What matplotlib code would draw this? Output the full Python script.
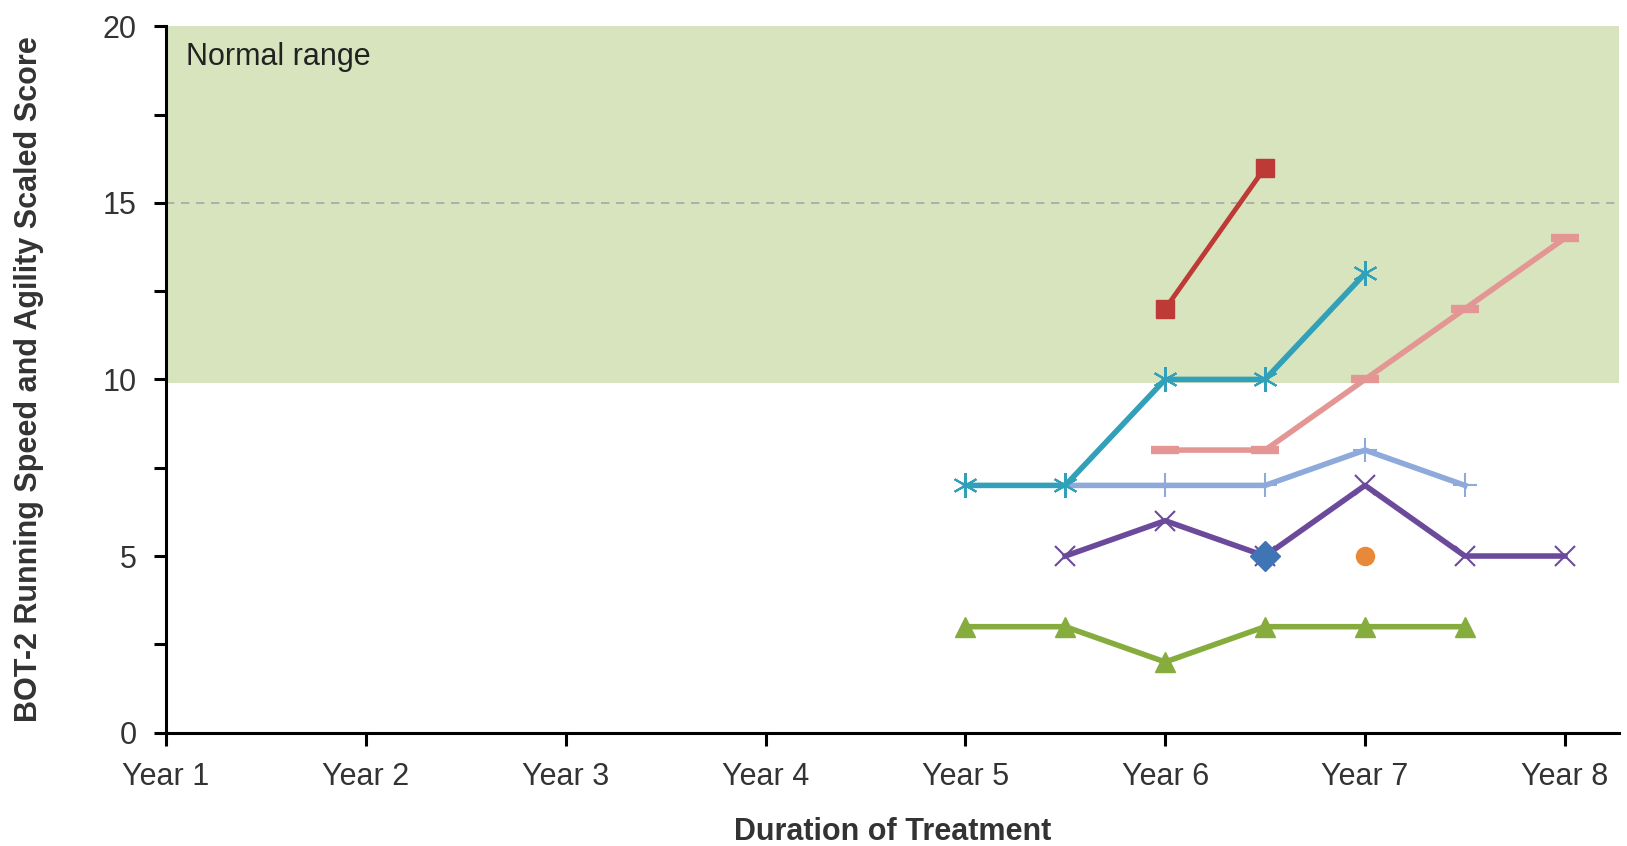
import matplotlib.pyplot as plt

plt.rcParams['font.family'] = ['Liberation Sans', 'DejaVu Sans']

# Dados (anos de tratamento, escores)
year_labels = ['Year 1', 'Year 2', 'Year 3', 'Year 4', 'Year 5', 'Year 6', 'Year 7', 'Year 8']
year_ticks = [1, 2, 3, 4, 5, 6, 7, 8]

red_x = [6, 6.5]
red_y = [12, 16]

teal_x = [5, 5.5, 6, 6.5, 7]
teal_y = [7, 7, 10, 10, 13]

pink_x = [6, 6.5, 7, 7.5, 8]
pink_y = [8, 8, 10, 12, 14]

lblue_x = [5.5, 6, 6.5, 7, 7.5]
lblue_y = [7, 7, 7, 8, 7]

purple_x = [5.5, 6, 6.5, 7, 7.5, 8]
purple_y = [5, 6, 5, 7, 5, 5]

diamond_x = [6.5]
diamond_y = [5]

orange_x = [7]
orange_y = [5]

green_x = [5, 5.5, 6, 6.5, 7, 7.5]
green_y = [3, 3, 2, 3, 3, 3]

normal_low, normal_high = 9.9, 20

fig = plt.figure(figsize=(16.27, 8.46), dpi=100)
ax = fig.add_axes([0.102, 0.134, 0.893, 0.835])

# faixa normal
ax.axhspan(normal_low, normal_high, color='#d7e4bd', zorder=0, lw=0)
ax.axhline(15, color='#a6a6a6', ls=(0, (5, 4)), lw=1.2, zorder=1)
ax.text(1.1, 19.55, 'Normal range', fontsize=22, color='#222222', va='top', ha='left')

ax.plot(lblue_x, lblue_y, color='#8eaadb', lw=4, marker='+', ms=17, mew=1.5, zorder=3)
ax.plot(teal_x, teal_y, color='#31a0b8', lw=4, marker=(6, 2, 0), ms=18, mew=1.5, zorder=4)
ax.plot(pink_x, pink_y, color='#e39694', lw=4, marker='_', ms=20, mew=6, zorder=3)
ax.plot(red_x, red_y, color='#be3a37', lw=3.5, marker='s', ms=13, zorder=4)
ax.plot(purple_x, purple_y, color='#6b4a9b', lw=4, marker='x', ms=15, mew=1.5, zorder=3)
ax.plot(green_x, green_y, color='#86ac3d', lw=4, marker='^', ms=15, zorder=3)
ax.plot(diamond_x, diamond_y, color='#3f74b5', lw=0, marker='D', ms=15, zorder=5)
ax.plot(orange_x, orange_y, color='#e8893a', lw=0, marker='o', ms=13, zorder=5)

ax.set_xlim(1, 8.27)
ax.set_ylim(0, 20)
ax.set_xticks(year_ticks)
ax.set_xticklabels(year_labels)
ax.set_yticks([0, 5, 10, 15, 20])
ax.set_yticks([2.5, 7.5, 12.5, 17.5], minor=True)

for side in ['top', 'right']:
    ax.spines[side].set_visible(False)
ax.spines['left'].set_linewidth(2.2)
ax.spines['bottom'].set_linewidth(2.2)
ax.tick_params(axis='both', which='major', length=9, width=2.2, labelsize=22,
               labelcolor='#333333', pad=12)
ax.tick_params(axis='y', which='minor', length=9, width=2.2)

ax.set_xlabel('Duration of Treatment', fontsize=22, fontweight='bold', color='#333333', labelpad=18)
ax.set_ylabel('BOT-2 Running Speed and Agility Scaled Score', fontsize=22,
              fontweight='bold', color='#333333', labelpad=42)
ax.grid(False)

fig.savefig('out.png', dpi=100)
